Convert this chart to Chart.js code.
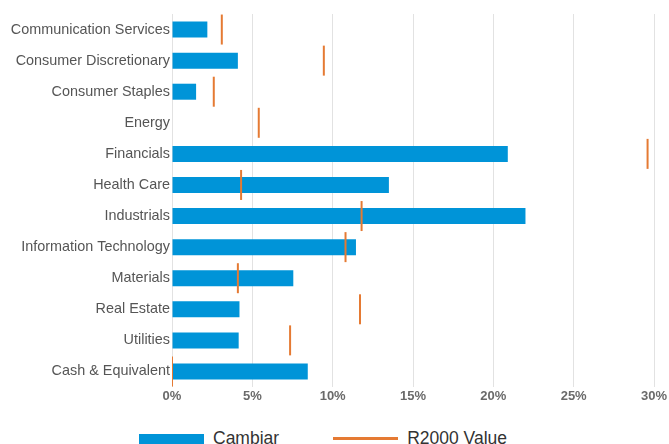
<!DOCTYPE html>
<html>
<head>
<meta charset="utf-8">
<script src="https://cdn.jsdelivr.net/npm/chart.js@4.4.1/dist/chart.umd.min.js"></script>
<style>
  html, body { margin: 0; padding: 0; background: #fff; overflow: hidden; }
  #wrap { position: relative; width: 669px; height: 444px; }
  #chart { position: absolute; left: 0; top: 0; }
  #legend {
    position: absolute; left: 139px; top: 428px;
    display: flex; align-items: center;
    font-family: "Liberation Sans", Arial, sans-serif; font-size: 17.5px; line-height: 20px; color: #333;
  }
  .item { display: flex; align-items: center; margin-right: 54px; }
  .swatch { width: 65px; margin-right: 9px; }
</style>
</head>
<body>
<div id="wrap">
  <canvas id="chart" width="669" height="420"></canvas>
  <div id="legend"></div>
</div>
<script>
/* Sector weights: Cambiar vs R2000 Value */

const categories = [
  "Communication Services", "Consumer Discretionary", "Consumer Staples", "Energy",
  "Financials", "Health Care", "Industrials", "Information Technology",
  "Materials", "Real Estate", "Utilities", "Cash & Equivalent",
];
const cambiar = [2.2, 4.1, 1.5, 0, 20.9, 13.5, 22.0, 11.45, 7.55, 4.2, 4.15, 8.45];
const r2000 = [3.1, 9.45, 2.6, 5.4, 29.6, 4.3, 11.8, 10.8, 4.1, 11.7, 7.35, 0];
const xTicks = [0, 5, 10, 15, 20, 25, 30];

const BLUE = "#0094d8";
const ORANGE = "#e57a33";
const FONT = "'Liberation Sans', Arial, sans-serif";

const chart = new Chart(document.getElementById("chart"), {
  type: "bar",
  data: {
    labels: categories,
    datasets: [
      {
        label: "Cambiar",
        data: cambiar,
        backgroundColor: BLUE,
        barThickness: 16,
        inflateAmount: 0,
        order: 2,
      },
      {
        type: "line",
        label: "R2000 Value",
        data: r2000,
        showLine: false,
        borderColor: ORANGE,
        backgroundColor: ORANGE,
        pointStyle: "line",
        pointRotation: 90,
        pointRadius: 15,
        pointBorderWidth: 2,
        order: 1,
      },
    ],
  },
  options: {
    indexAxis: "y",
    responsive: false,
    animation: false,
    layout: {
      autoPadding: false,
      padding: { top: 14, right: 15, left: 0, bottom: 0 },
    },
    scales: {
      x: {
        min: 0,
        max: 30,
        afterBuildTicks: (scale) => {
          scale.ticks = xTicks.map((v) => ({ value: v }));
        },
        afterFit: (scale) => {
          scale.height = 33;
          scale.paddingLeft = 0;
          scale.paddingRight = 0;
        },
        grid: { color: "#e2e2e2", drawTicks: false },
        border: { display: false },
        ticks: {
          padding: 2,
          color: "#6a6a6a",
          font: { family: FONT, size: 13, weight: "bold" },
          callback: (v) => v + "%",
        },
      },
      y: {
        afterFit: (scale) => {
          scale.width = 172;
          scale.paddingTop = 0;
          scale.paddingBottom = 0;
        },
        grid: { display: false, drawTicks: false },
        border: { display: false },
        ticks: {
          padding: 2,
          color: "#555",
          font: { family: FONT, size: 14.4 },
        },
      },
    },
    plugins: {
      legend: { display: false },
      tooltip: { enabled: false },
    },
  },
});

function renderLegend(chart) {
  const box = document.getElementById("legend");
  box.innerHTML = chart.data.datasets.map((ds) => {
    const isLine = ds.type === "line";
    const swatch = isLine
      ? `<span class="swatch" style="height:3px;background:${ds.borderColor}"></span>`
      : `<span class="swatch" style="height:13px;margin-top:4px;background:${ds.backgroundColor}"></span>`;
    return `<span class="item">${swatch}<span>${ds.label}</span></span>`;
  }).join("");
}

renderLegend(chart);
</script>
</body>
</html>
